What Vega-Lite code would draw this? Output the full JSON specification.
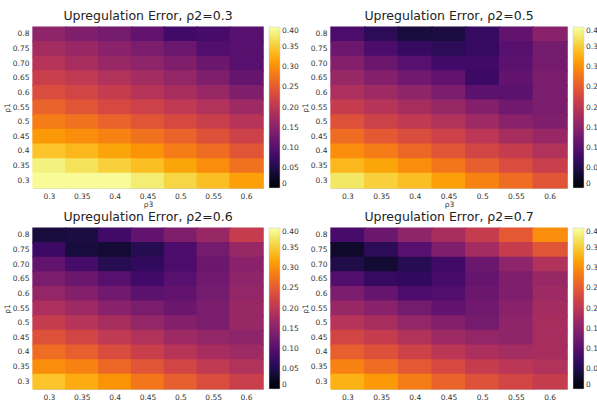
{
"$schema": "https://vega.github.io/schema/vega-lite/v6.json",
"padding": {"left": 2, "top": 9, "right": 0, "bottom": 0},
"background": "white",
"datasets": {"d": [
{"p":"0.3","r1":"0.8","r3":"0.3","e":0.155},{"p":"0.3","r1":"0.8","r3":"0.35","e":0.14},{"p":"0.3","r1":"0.8","r3":"0.4","e":0.13},{"p":"0.3","r1":"0.8","r3":"0.45","e":0.11},{"p":"0.3","r1":"0.8","r3":"0.5","e":0.08},{"p":"0.3","r1":"0.8","r3":"0.55","e":0.085},{"p":"0.3","r1":"0.8","r3":"0.6","e":0.10},
{"p":"0.3","r1":"0.75","r3":"0.3","e":0.175},{"p":"0.3","r1":"0.75","r3":"0.35","e":0.165},{"p":"0.3","r1":"0.75","r3":"0.4","e":0.15},{"p":"0.3","r1":"0.75","r3":"0.45","e":0.135},{"p":"0.3","r1":"0.75","r3":"0.5","e":0.12},{"p":"0.3","r1":"0.75","r3":"0.55","e":0.095},{"p":"0.3","r1":"0.75","r3":"0.6","e":0.10},
{"p":"0.3","r1":"0.70","r3":"0.3","e":0.195},{"p":"0.3","r1":"0.70","r3":"0.35","e":0.18},{"p":"0.3","r1":"0.70","r3":"0.4","e":0.165},{"p":"0.3","r1":"0.70","r3":"0.45","e":0.155},{"p":"0.3","r1":"0.70","r3":"0.5","e":0.14},{"p":"0.3","r1":"0.70","r3":"0.55","e":0.12},{"p":"0.3","r1":"0.70","r3":"0.6","e":0.10},
{"p":"0.3","r1":"0.65","r3":"0.3","e":0.215},{"p":"0.3","r1":"0.65","r3":"0.35","e":0.205},{"p":"0.3","r1":"0.65","r3":"0.4","e":0.19},{"p":"0.3","r1":"0.65","r3":"0.45","e":0.175},{"p":"0.3","r1":"0.65","r3":"0.5","e":0.16},{"p":"0.3","r1":"0.65","r3":"0.55","e":0.14},{"p":"0.3","r1":"0.65","r3":"0.6","e":0.115},
{"p":"0.3","r1":"0.6","r3":"0.3","e":0.235},{"p":"0.3","r1":"0.6","r3":"0.35","e":0.225},{"p":"0.3","r1":"0.6","r3":"0.4","e":0.21},{"p":"0.3","r1":"0.6","r3":"0.45","e":0.195},{"p":"0.3","r1":"0.6","r3":"0.5","e":0.18},{"p":"0.3","r1":"0.6","r3":"0.55","e":0.165},{"p":"0.3","r1":"0.6","r3":"0.6","e":0.14},
{"p":"0.3","r1":"0.55","r3":"0.3","e":0.26},{"p":"0.3","r1":"0.55","r3":"0.35","e":0.245},{"p":"0.3","r1":"0.55","r3":"0.4","e":0.23},{"p":"0.3","r1":"0.55","r3":"0.45","e":0.22},{"p":"0.3","r1":"0.55","r3":"0.5","e":0.205},{"p":"0.3","r1":"0.55","r3":"0.55","e":0.19},{"p":"0.3","r1":"0.55","r3":"0.6","e":0.17},
{"p":"0.3","r1":"0.5","r3":"0.3","e":0.285},{"p":"0.3","r1":"0.5","r3":"0.35","e":0.275},{"p":"0.3","r1":"0.5","r3":"0.4","e":0.26},{"p":"0.3","r1":"0.5","r3":"0.45","e":0.245},{"p":"0.3","r1":"0.5","r3":"0.5","e":0.23},{"p":"0.3","r1":"0.5","r3":"0.55","e":0.215},{"p":"0.3","r1":"0.5","r3":"0.6","e":0.195},
{"p":"0.3","r1":"0.45","r3":"0.3","e":0.31},{"p":"0.3","r1":"0.45","r3":"0.35","e":0.30},{"p":"0.3","r1":"0.45","r3":"0.4","e":0.29},{"p":"0.3","r1":"0.45","r3":"0.45","e":0.275},{"p":"0.3","r1":"0.45","r3":"0.5","e":0.26},{"p":"0.3","r1":"0.45","r3":"0.55","e":0.24},{"p":"0.3","r1":"0.45","r3":"0.6","e":0.22},
{"p":"0.3","r1":"0.4","r3":"0.3","e":0.345},{"p":"0.3","r1":"0.4","r3":"0.35","e":0.335},{"p":"0.3","r1":"0.4","r3":"0.4","e":0.32},{"p":"0.3","r1":"0.4","r3":"0.45","e":0.305},{"p":"0.3","r1":"0.4","r3":"0.5","e":0.285},{"p":"0.3","r1":"0.4","r3":"0.55","e":0.27},{"p":"0.3","r1":"0.4","r3":"0.6","e":0.245},
{"p":"0.3","r1":"0.35","r3":"0.3","e":0.385},{"p":"0.3","r1":"0.35","r3":"0.35","e":0.37},{"p":"0.3","r1":"0.35","r3":"0.4","e":0.355},{"p":"0.3","r1":"0.35","r3":"0.45","e":0.34},{"p":"0.3","r1":"0.35","r3":"0.5","e":0.32},{"p":"0.3","r1":"0.35","r3":"0.55","e":0.30},{"p":"0.3","r1":"0.35","r3":"0.6","e":0.275},
{"p":"0.3","r1":"0.3","r3":"0.3","e":0.395},{"p":"0.3","r1":"0.3","r3":"0.35","e":0.395},{"p":"0.3","r1":"0.3","r3":"0.4","e":0.395},{"p":"0.3","r1":"0.3","r3":"0.45","e":0.38},{"p":"0.3","r1":"0.3","r3":"0.5","e":0.36},{"p":"0.3","r1":"0.3","r3":"0.55","e":0.34},{"p":"0.3","r1":"0.3","r3":"0.6","e":0.315},

{"p":"0.5","r1":"0.8","r3":"0.3","e":0.09},{"p":"0.5","r1":"0.8","r3":"0.35","e":0.06},{"p":"0.5","r1":"0.8","r3":"0.4","e":0.04},{"p":"0.5","r1":"0.8","r3":"0.45","e":0.045},{"p":"0.5","r1":"0.8","r3":"0.5","e":0.07},{"p":"0.5","r1":"0.8","r3":"0.55","e":0.11},{"p":"0.5","r1":"0.8","r3":"0.6","e":0.15},
{"p":"0.5","r1":"0.75","r3":"0.3","e":0.12},{"p":"0.5","r1":"0.75","r3":"0.35","e":0.09},{"p":"0.5","r1":"0.75","r3":"0.4","e":0.07},{"p":"0.5","r1":"0.75","r3":"0.45","e":0.06},{"p":"0.5","r1":"0.75","r3":"0.5","e":0.07},{"p":"0.5","r1":"0.75","r3":"0.55","e":0.10},{"p":"0.5","r1":"0.75","r3":"0.6","e":0.13},
{"p":"0.5","r1":"0.70","r3":"0.3","e":0.145},{"p":"0.5","r1":"0.70","r3":"0.35","e":0.12},{"p":"0.5","r1":"0.70","r3":"0.4","e":0.10},{"p":"0.5","r1":"0.70","r3":"0.45","e":0.08},{"p":"0.5","r1":"0.70","r3":"0.5","e":0.08},{"p":"0.5","r1":"0.70","r3":"0.55","e":0.105},{"p":"0.5","r1":"0.70","r3":"0.6","e":0.13},
{"p":"0.5","r1":"0.65","r3":"0.3","e":0.165},{"p":"0.5","r1":"0.65","r3":"0.35","e":0.145},{"p":"0.5","r1":"0.65","r3":"0.4","e":0.125},{"p":"0.5","r1":"0.65","r3":"0.45","e":0.11},{"p":"0.5","r1":"0.65","r3":"0.5","e":0.075},{"p":"0.5","r1":"0.65","r3":"0.55","e":0.11},{"p":"0.5","r1":"0.65","r3":"0.6","e":0.135},
{"p":"0.5","r1":"0.6","r3":"0.3","e":0.185},{"p":"0.5","r1":"0.6","r3":"0.35","e":0.17},{"p":"0.5","r1":"0.6","r3":"0.4","e":0.155},{"p":"0.5","r1":"0.6","r3":"0.45","e":0.135},{"p":"0.5","r1":"0.6","r3":"0.5","e":0.105},{"p":"0.5","r1":"0.6","r3":"0.55","e":0.105},{"p":"0.5","r1":"0.6","r3":"0.6","e":0.135},
{"p":"0.5","r1":"0.55","r3":"0.3","e":0.21},{"p":"0.5","r1":"0.55","r3":"0.35","e":0.195},{"p":"0.5","r1":"0.55","r3":"0.4","e":0.18},{"p":"0.5","r1":"0.55","r3":"0.45","e":0.165},{"p":"0.5","r1":"0.55","r3":"0.5","e":0.145},{"p":"0.5","r1":"0.55","r3":"0.55","e":0.125},{"p":"0.5","r1":"0.55","r3":"0.6","e":0.135},
{"p":"0.5","r1":"0.5","r3":"0.3","e":0.24},{"p":"0.5","r1":"0.5","r3":"0.35","e":0.22},{"p":"0.5","r1":"0.5","r3":"0.4","e":0.205},{"p":"0.5","r1":"0.5","r3":"0.45","e":0.19},{"p":"0.5","r1":"0.5","r3":"0.5","e":0.17},{"p":"0.5","r1":"0.5","r3":"0.55","e":0.15},{"p":"0.5","r1":"0.5","r3":"0.6","e":0.14},
{"p":"0.5","r1":"0.45","r3":"0.3","e":0.27},{"p":"0.5","r1":"0.45","r3":"0.35","e":0.25},{"p":"0.5","r1":"0.45","r3":"0.4","e":0.235},{"p":"0.5","r1":"0.45","r3":"0.45","e":0.22},{"p":"0.5","r1":"0.45","r3":"0.5","e":0.20},{"p":"0.5","r1":"0.45","r3":"0.55","e":0.18},{"p":"0.5","r1":"0.45","r3":"0.6","e":0.165},
{"p":"0.5","r1":"0.4","r3":"0.3","e":0.30},{"p":"0.5","r1":"0.4","r3":"0.35","e":0.285},{"p":"0.5","r1":"0.4","r3":"0.4","e":0.265},{"p":"0.5","r1":"0.4","r3":"0.45","e":0.245},{"p":"0.5","r1":"0.4","r3":"0.5","e":0.225},{"p":"0.5","r1":"0.4","r3":"0.55","e":0.21},{"p":"0.5","r1":"0.4","r3":"0.6","e":0.19},
{"p":"0.5","r1":"0.35","r3":"0.3","e":0.335},{"p":"0.5","r1":"0.35","r3":"0.35","e":0.32},{"p":"0.5","r1":"0.35","r3":"0.4","e":0.30},{"p":"0.5","r1":"0.35","r3":"0.45","e":0.28},{"p":"0.5","r1":"0.35","r3":"0.5","e":0.255},{"p":"0.5","r1":"0.35","r3":"0.55","e":0.235},{"p":"0.5","r1":"0.35","r3":"0.6","e":0.215},
{"p":"0.5","r1":"0.3","r3":"0.3","e":0.375},{"p":"0.5","r1":"0.3","r3":"0.35","e":0.355},{"p":"0.5","r1":"0.3","r3":"0.4","e":0.34},{"p":"0.5","r1":"0.3","r3":"0.45","e":0.315},{"p":"0.5","r1":"0.3","r3":"0.5","e":0.29},{"p":"0.5","r1":"0.3","r3":"0.55","e":0.27},{"p":"0.5","r1":"0.3","r3":"0.6","e":0.245},

{"p":"0.6","r1":"0.8","r3":"0.3","e":0.04},{"p":"0.6","r1":"0.8","r3":"0.35","e":0.045},{"p":"0.6","r1":"0.8","r3":"0.4","e":0.08},{"p":"0.6","r1":"0.8","r3":"0.45","e":0.11},{"p":"0.6","r1":"0.8","r3":"0.5","e":0.14},{"p":"0.6","r1":"0.8","r3":"0.55","e":0.165},{"p":"0.6","r1":"0.8","r3":"0.6","e":0.21},
{"p":"0.6","r1":"0.75","r3":"0.3","e":0.075},{"p":"0.6","r1":"0.75","r3":"0.35","e":0.04},{"p":"0.6","r1":"0.75","r3":"0.4","e":0.035},{"p":"0.6","r1":"0.75","r3":"0.45","e":0.055},{"p":"0.6","r1":"0.75","r3":"0.5","e":0.09},{"p":"0.6","r1":"0.75","r3":"0.55","e":0.13},{"p":"0.6","r1":"0.75","r3":"0.6","e":0.165},
{"p":"0.6","r1":"0.70","r3":"0.3","e":0.11},{"p":"0.6","r1":"0.70","r3":"0.35","e":0.085},{"p":"0.6","r1":"0.70","r3":"0.4","e":0.055},{"p":"0.6","r1":"0.70","r3":"0.45","e":0.065},{"p":"0.6","r1":"0.70","r3":"0.5","e":0.09},{"p":"0.6","r1":"0.70","r3":"0.55","e":0.12},{"p":"0.6","r1":"0.70","r3":"0.6","e":0.15},
{"p":"0.6","r1":"0.65","r3":"0.3","e":0.135},{"p":"0.6","r1":"0.65","r3":"0.35","e":0.12},{"p":"0.6","r1":"0.65","r3":"0.4","e":0.10},{"p":"0.6","r1":"0.65","r3":"0.45","e":0.08},{"p":"0.6","r1":"0.65","r3":"0.5","e":0.10},{"p":"0.6","r1":"0.65","r3":"0.55","e":0.125},{"p":"0.6","r1":"0.65","r3":"0.6","e":0.155},
{"p":"0.6","r1":"0.6","r3":"0.3","e":0.16},{"p":"0.6","r1":"0.6","r3":"0.35","e":0.145},{"p":"0.6","r1":"0.6","r3":"0.4","e":0.125},{"p":"0.6","r1":"0.6","r3":"0.45","e":0.105},{"p":"0.6","r1":"0.6","r3":"0.5","e":0.11},{"p":"0.6","r1":"0.6","r3":"0.55","e":0.13},{"p":"0.6","r1":"0.6","r3":"0.6","e":0.16},
{"p":"0.6","r1":"0.55","r3":"0.3","e":0.185},{"p":"0.6","r1":"0.55","r3":"0.35","e":0.17},{"p":"0.6","r1":"0.55","r3":"0.4","e":0.15},{"p":"0.6","r1":"0.55","r3":"0.45","e":0.135},{"p":"0.6","r1":"0.55","r3":"0.5","e":0.12},{"p":"0.6","r1":"0.55","r3":"0.55","e":0.135},{"p":"0.6","r1":"0.55","r3":"0.6","e":0.165},
{"p":"0.6","r1":"0.5","r3":"0.3","e":0.21},{"p":"0.6","r1":"0.5","r3":"0.35","e":0.195},{"p":"0.6","r1":"0.5","r3":"0.4","e":0.18},{"p":"0.6","r1":"0.5","r3":"0.45","e":0.16},{"p":"0.6","r1":"0.5","r3":"0.5","e":0.145},{"p":"0.6","r1":"0.5","r3":"0.55","e":0.135},{"p":"0.6","r1":"0.5","r3":"0.6","e":0.165},
{"p":"0.6","r1":"0.45","r3":"0.3","e":0.24},{"p":"0.6","r1":"0.45","r3":"0.35","e":0.225},{"p":"0.6","r1":"0.45","r3":"0.4","e":0.205},{"p":"0.6","r1":"0.45","r3":"0.45","e":0.19},{"p":"0.6","r1":"0.45","r3":"0.5","e":0.17},{"p":"0.6","r1":"0.45","r3":"0.55","e":0.16},{"p":"0.6","r1":"0.45","r3":"0.6","e":0.155},
{"p":"0.6","r1":"0.4","r3":"0.3","e":0.27},{"p":"0.6","r1":"0.4","r3":"0.35","e":0.255},{"p":"0.6","r1":"0.4","r3":"0.4","e":0.235},{"p":"0.6","r1":"0.4","r3":"0.45","e":0.215},{"p":"0.6","r1":"0.4","r3":"0.5","e":0.195},{"p":"0.6","r1":"0.4","r3":"0.55","e":0.18},{"p":"0.6","r1":"0.4","r3":"0.6","e":0.17},
{"p":"0.6","r1":"0.35","r3":"0.3","e":0.30},{"p":"0.6","r1":"0.35","r3":"0.35","e":0.29},{"p":"0.6","r1":"0.35","r3":"0.4","e":0.265},{"p":"0.6","r1":"0.35","r3":"0.45","e":0.245},{"p":"0.6","r1":"0.35","r3":"0.5","e":0.225},{"p":"0.6","r1":"0.35","r3":"0.55","e":0.205},{"p":"0.6","r1":"0.35","r3":"0.6","e":0.19},
{"p":"0.6","r1":"0.3","r3":"0.3","e":0.345},{"p":"0.6","r1":"0.3","r3":"0.35","e":0.325},{"p":"0.6","r1":"0.3","r3":"0.4","e":0.305},{"p":"0.6","r1":"0.3","r3":"0.45","e":0.28},{"p":"0.6","r1":"0.3","r3":"0.5","e":0.255},{"p":"0.6","r1":"0.3","r3":"0.55","e":0.235},{"p":"0.6","r1":"0.3","r3":"0.6","e":0.215},

{"p":"0.7","r1":"0.8","r3":"0.3","e":0.085},{"p":"0.7","r1":"0.8","r3":"0.35","e":0.12},{"p":"0.7","r1":"0.8","r3":"0.4","e":0.155},{"p":"0.7","r1":"0.8","r3":"0.45","e":0.18},{"p":"0.7","r1":"0.8","r3":"0.5","e":0.21},{"p":"0.7","r1":"0.8","r3":"0.55","e":0.25},{"p":"0.7","r1":"0.8","r3":"0.6","e":0.30},
{"p":"0.7","r1":"0.75","r3":"0.3","e":0.03},{"p":"0.7","r1":"0.75","r3":"0.35","e":0.06},{"p":"0.7","r1":"0.75","r3":"0.4","e":0.10},{"p":"0.7","r1":"0.75","r3":"0.45","e":0.14},{"p":"0.7","r1":"0.75","r3":"0.5","e":0.175},{"p":"0.7","r1":"0.75","r3":"0.55","e":0.21},{"p":"0.7","r1":"0.75","r3":"0.6","e":0.245},
{"p":"0.7","r1":"0.70","r3":"0.3","e":0.05},{"p":"0.7","r1":"0.70","r3":"0.35","e":0.035},{"p":"0.7","r1":"0.70","r3":"0.4","e":0.055},{"p":"0.7","r1":"0.70","r3":"0.45","e":0.08},{"p":"0.7","r1":"0.70","r3":"0.5","e":0.12},{"p":"0.7","r1":"0.70","r3":"0.55","e":0.155},{"p":"0.7","r1":"0.70","r3":"0.6","e":0.19},
{"p":"0.7","r1":"0.65","r3":"0.3","e":0.095},{"p":"0.7","r1":"0.65","r3":"0.35","e":0.07},{"p":"0.7","r1":"0.65","r3":"0.4","e":0.065},{"p":"0.7","r1":"0.65","r3":"0.45","e":0.085},{"p":"0.7","r1":"0.65","r3":"0.5","e":0.115},{"p":"0.7","r1":"0.65","r3":"0.55","e":0.14},{"p":"0.7","r1":"0.65","r3":"0.6","e":0.165},
{"p":"0.7","r1":"0.6","r3":"0.3","e":0.135},{"p":"0.7","r1":"0.6","r3":"0.35","e":0.115},{"p":"0.7","r1":"0.6","r3":"0.4","e":0.09},{"p":"0.7","r1":"0.6","r3":"0.45","e":0.095},{"p":"0.7","r1":"0.6","r3":"0.5","e":0.12},{"p":"0.7","r1":"0.6","r3":"0.55","e":0.14},{"p":"0.7","r1":"0.6","r3":"0.6","e":0.17},
{"p":"0.7","r1":"0.55","r3":"0.3","e":0.165},{"p":"0.7","r1":"0.55","r3":"0.35","e":0.15},{"p":"0.7","r1":"0.55","r3":"0.4","e":0.13},{"p":"0.7","r1":"0.55","r3":"0.45","e":0.11},{"p":"0.7","r1":"0.55","r3":"0.5","e":0.125},{"p":"0.7","r1":"0.55","r3":"0.55","e":0.15},{"p":"0.7","r1":"0.55","r3":"0.6","e":0.175},
{"p":"0.7","r1":"0.5","r3":"0.3","e":0.195},{"p":"0.7","r1":"0.5","r3":"0.35","e":0.18},{"p":"0.7","r1":"0.5","r3":"0.4","e":0.16},{"p":"0.7","r1":"0.5","r3":"0.45","e":0.145},{"p":"0.7","r1":"0.5","r3":"0.5","e":0.13},{"p":"0.7","r1":"0.5","r3":"0.55","e":0.155},{"p":"0.7","r1":"0.5","r3":"0.6","e":0.18},
{"p":"0.7","r1":"0.45","r3":"0.3","e":0.225},{"p":"0.7","r1":"0.45","r3":"0.35","e":0.21},{"p":"0.7","r1":"0.45","r3":"0.4","e":0.19},{"p":"0.7","r1":"0.45","r3":"0.45","e":0.17},{"p":"0.7","r1":"0.45","r3":"0.5","e":0.16},{"p":"0.7","r1":"0.45","r3":"0.55","e":0.155},{"p":"0.7","r1":"0.45","r3":"0.6","e":0.18},
{"p":"0.7","r1":"0.4","r3":"0.3","e":0.255},{"p":"0.7","r1":"0.4","r3":"0.35","e":0.24},{"p":"0.7","r1":"0.4","r3":"0.4","e":0.22},{"p":"0.7","r1":"0.4","r3":"0.45","e":0.20},{"p":"0.7","r1":"0.4","r3":"0.5","e":0.185},{"p":"0.7","r1":"0.4","r3":"0.55","e":0.175},{"p":"0.7","r1":"0.4","r3":"0.6","e":0.18},
{"p":"0.7","r1":"0.35","r3":"0.3","e":0.29},{"p":"0.7","r1":"0.35","r3":"0.35","e":0.27},{"p":"0.7","r1":"0.35","r3":"0.4","e":0.25},{"p":"0.7","r1":"0.35","r3":"0.45","e":0.23},{"p":"0.7","r1":"0.35","r3":"0.5","e":0.21},{"p":"0.7","r1":"0.35","r3":"0.55","e":0.20},{"p":"0.7","r1":"0.35","r3":"0.6","e":0.19},
{"p":"0.7","r1":"0.3","r3":"0.3","e":0.33},{"p":"0.7","r1":"0.3","r3":"0.35","e":0.31},{"p":"0.7","r1":"0.3","r3":"0.4","e":0.285},{"p":"0.7","r1":"0.3","r3":"0.45","e":0.26},{"p":"0.7","r1":"0.3","r3":"0.5","e":0.24},{"p":"0.7","r1":"0.3","r3":"0.55","e":0.225},{"p":"0.7","r1":"0.3","r3":"0.6","e":0.21}
]},
"data": {"name": "d"},
"columns": 2,
"spacing": {"row": 1, "column": 0},
"concat": [
{"title": "Upregulation Error, ρ2=0.3", "width": 230, "height": 161,
 "transform": [{"filter": "datum.p == '0.3'"}],
 "mark": {"type": "rect", "width": {"band": 1.04}, "height": {"band": 1.08}},
 "encoding": {
  "x": {"field": "r3", "type": "ordinal", "sort": ["0.3","0.35","0.4","0.45","0.5","0.55","0.6"], "title": "ρ3", "axis": {"labelAngle": 0}},
  "y": {"field": "r1", "type": "ordinal", "sort": ["0.8","0.75","0.70","0.65","0.6","0.55","0.5","0.45","0.4","0.35","0.3"], "title": "ρ1"},
  "color": {"field": "e", "type": "quantitative", "scale": {"scheme": "inferno", "domain": [0, 0.4]},
   "legend": {"title": null, "values": [0,0.05,0.1,0.15,0.2,0.25,0.3,0.35,0.4], "labelExpr": "datum.value == 0 ? '0' : format(datum.value, '.2f')"}}
 }},
{"title": "Upregulation Error, ρ2=0.5", "width": 236, "height": 161,
 "transform": [{"filter": "datum.p == '0.5'"}],
 "mark": {"type": "rect", "width": {"band": 1.04}, "height": {"band": 1.08}},
 "encoding": {
  "x": {"field": "r3", "type": "ordinal", "sort": ["0.3","0.35","0.4","0.45","0.5","0.55","0.6"], "title": "ρ3", "axis": {"labelAngle": 0}},
  "y": {"field": "r1", "type": "ordinal", "sort": ["0.8","0.75","0.70","0.65","0.6","0.55","0.5","0.45","0.4","0.35","0.3"], "title": "ρ1"},
  "color": {"field": "e", "type": "quantitative", "scale": {"scheme": "inferno", "domain": [0, 0.4]},
   "legend": {"title": null, "values": [0,0.05,0.1,0.15,0.2,0.25,0.3,0.35,0.4], "labelExpr": "datum.value == 0 ? '0' : format(datum.value, '.2f')"}}
 }},
{"title": "Upregulation Error, ρ2=0.6", "width": 230, "height": 161,
 "transform": [{"filter": "datum.p == '0.6'"}],
 "mark": {"type": "rect", "width": {"band": 1.04}, "height": {"band": 1.08}},
 "encoding": {
  "x": {"field": "r3", "type": "ordinal", "sort": ["0.3","0.35","0.4","0.45","0.5","0.55","0.6"], "title": "ρ3", "axis": {"labelAngle": 0}},
  "y": {"field": "r1", "type": "ordinal", "sort": ["0.8","0.75","0.70","0.65","0.6","0.55","0.5","0.45","0.4","0.35","0.3"], "title": "ρ1"},
  "color": {"field": "e", "type": "quantitative", "scale": {"scheme": "inferno", "domain": [0, 0.4]},
   "legend": {"title": null, "values": [0,0.05,0.1,0.15,0.2,0.25,0.3,0.35,0.4], "labelExpr": "datum.value == 0 ? '0' : format(datum.value, '.2f')"}}
 }},
{"title": "Upregulation Error, ρ2=0.7", "width": 236, "height": 161,
 "transform": [{"filter": "datum.p == '0.7'"}],
 "mark": {"type": "rect", "width": {"band": 1.04}, "height": {"band": 1.08}},
 "encoding": {
  "x": {"field": "r3", "type": "ordinal", "sort": ["0.3","0.35","0.4","0.45","0.5","0.55","0.6"], "title": "ρ3", "axis": {"labelAngle": 0}},
  "y": {"field": "r1", "type": "ordinal", "sort": ["0.8","0.75","0.70","0.65","0.6","0.55","0.5","0.45","0.4","0.35","0.3"], "title": "ρ1"},
  "color": {"field": "e", "type": "quantitative", "scale": {"scheme": "inferno", "domain": [0, 0.4]},
   "legend": {"title": null, "values": [0,0.05,0.1,0.15,0.2,0.25,0.3,0.35,0.4], "labelExpr": "datum.value == 0 ? '0' : format(datum.value, '.2f')"}}
 }}
],
"resolve": {"scale": {"color": "independent"}, "legend": {"color": "independent"}},
"config": {
 "font": "DejaVu Sans",
 "view": {"stroke": "#cccccc", "strokeWidth": 1},
 "title": {"fontSize": 12.5, "fontWeight": "normal", "color": "#222222", "offset": 4},
 "axis": {"labelFontSize": 7.5, "titleFontSize": 7.5, "titleFontWeight": "normal", "ticks": false, "domain": false, "grid": false, "labelPadding": 4, "titlePadding": 1, "labelColor": "#333333", "titleColor": "#333333"},
 "legend": {"gradientLength": 161, "gradientThickness": 11, "labelFontSize": 7.5, "labelColor": "#333333", "offset": 6, "padding": 0, "gradientStrokeColor": "#cccccc", "gradientStrokeWidth": 0.5}
}
}
